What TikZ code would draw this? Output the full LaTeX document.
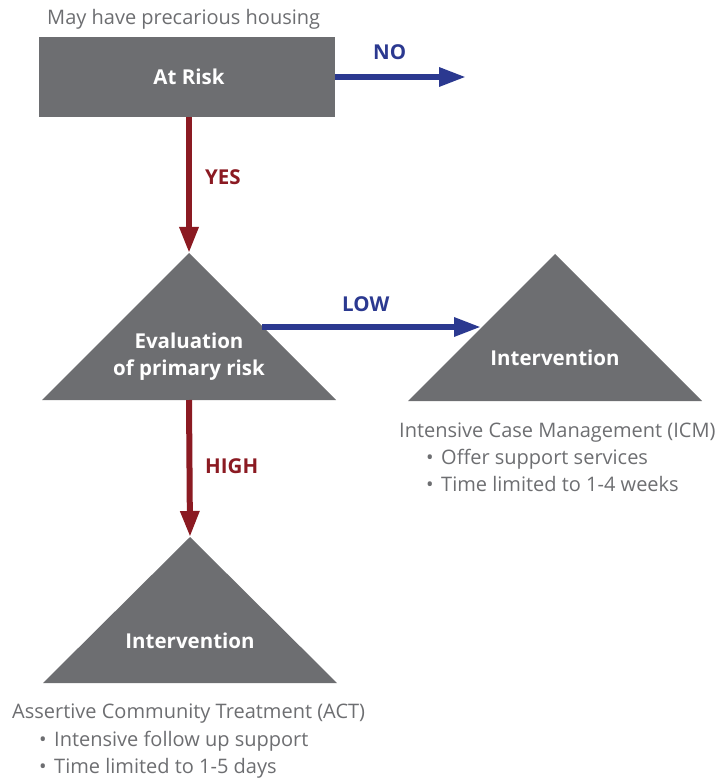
\documentclass[tikz,border=0pt]{standalone}
\usepackage{fontspec}
\setmainfont{Open Sans}
\usetikzlibrary{arrows.meta}
\definecolor{boxgray}{HTML}{6D6E71}
\definecolor{txtgray}{HTML}{6D6E71}
\definecolor{arrred}{HTML}{8B1A22}
\definecolor{arrblue}{HTML}{2B3990}
\tikzset{
  shape fill/.style={fill=boxgray, draw=none},
  inner label/.style={text=white, font=\fontsize{20.5}{24}\selectfont\bfseries, inner sep=0pt},
  branch label/.style={font=\fontsize{20.5}{24}\selectfont\bfseries, inner sep=0pt, anchor=base west},
  body text/.style={text=txtgray, font=\fontsize{20}{27}\selectfont, inner sep=0pt, anchor=base west},
  red arrow/.style={draw=arrred, line width=6pt, -{Triangle[length=26pt,width=18pt]}},
  blue arrow/.style={draw=arrblue, line width=6pt, -{Triangle[length=27pt,width=18pt]}},
}
\begin{document}
\begin{tikzpicture}[x=1pt,y=-1pt]
\useasboundingbox (0,0) rectangle (723,783);
% at risk box
\node[shape fill, minimum width=296pt, minimum height=80pt, inner sep=0pt] (atrisk) at (187,77) {};
\node[inner label, anchor=base] (atrisktxt) at (189,85) {At Risk};
\node[body text] (precar) at (47,25) {May have precarious housing};
% triangles
\coordinate (evaltop) at (189,253);
\coordinate (icmtop) at (555,254);
\coordinate (acttop) at (190,537);
\path[shape fill] (evaltop) -- (336,400) -- (42,400) -- cycle;
\path[shape fill] (icmtop) -- (702,401) -- (408,401) -- cycle;
\path[shape fill] (acttop) -- (337,683) -- (43,683) -- cycle;
\node[inner label, anchor=base] (evaltxt) at (189,348) {Evaluation};
\node[inner label, anchor=base] (evaltxtb) at (189,375) {of primary risk};
\node[inner label, anchor=base] (icmtxt) at (555,365) {Intervention};
\node[inner label, anchor=base] (acttxt) at (190,648) {Intervention};
% out coords
\coordinate (noend) at (466,77);
\coordinate (lowstart) at (262,327);
\coordinate (lowend) at (481,327);
\coordinate (evalbase) at (189,400);
% arrows
\draw[blue arrow] (atrisk.east |- noend) -- (noend);
\draw[red arrow] (atrisk.south -| evaltop) -- (evaltop);
\draw[blue arrow] (lowstart) -- (lowend);
\draw[red arrow] (evalbase) -- (acttop);
% labels
\node[branch label, text=arrblue] (no) at (373,60) {NO};
\node[branch label, text=arrred] (yes) at (205,185) {YES};
\node[branch label, text=arrblue] (low) at (342,311) {LOW};
\node[branch label, text=arrred] (high) at (205,473) {HIGH};
% ICM text
\node[body text] (icm1) at (399,437) {Intensive Case Management (ICM)};
\node[body text] (icmb1) at (426,464) {•};
\node[body text] (icm2) at (441,464) {Offer support services};
\node[body text] (icmb2) at (426,491) {•};
\node[body text] (icm3) at (441,491) {Time limited to 1-4 weeks};
% ACT text
\node[body text] (act1) at (12,718) {Assertive Community Treatment (ACT)};
\node[body text] (actb1) at (39,746) {•};
\node[body text] (act2) at (54,746) {Intensive follow up support};
\node[body text] (actb2) at (39,773) {•};
\node[body text] (act3) at (54,773) {Time limited to 1-5 days};
\end{tikzpicture}
\end{document}
